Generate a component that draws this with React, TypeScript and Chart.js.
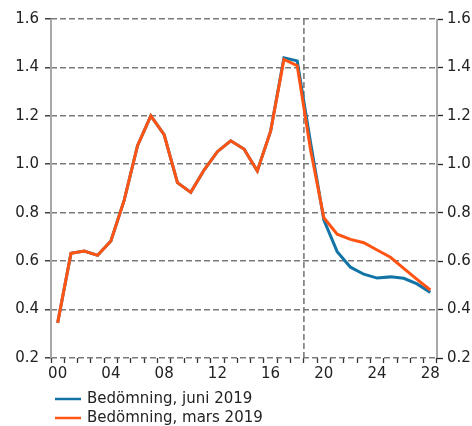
import React, { useEffect, useRef } from "react";
import { Chart, registerables } from "chart.js";

Chart.register(...registerables);

const years: string[] = [
  "00", "01", "02", "03", "04", "05", "06", "07", "08", "09",
  "10", "11", "12", "13", "14", "15", "16", "17", "18", "19",
  "20", "21", "22", "23", "24", "25", "26", "27", "28",
];

const juni2019: number[] = [
  0.345, 0.632, 0.642, 0.624, 0.683, 0.852, 1.077, 1.2, 1.122, 0.924,
  0.884, 0.976, 1.052, 1.097, 1.063, 0.972, 1.137, 1.44, 1.427, 1.09,
  0.77, 0.639, 0.575, 0.546, 0.53, 0.535, 0.529, 0.506, 0.471,
];

const mars2019: number[] = [
  0.345, 0.632, 0.642, 0.624, 0.683, 0.852, 1.077, 1.2, 1.122, 0.924,
  0.884, 0.976, 1.052, 1.097, 1.063, 0.972, 1.137, 1.433, 1.407, 1.06,
  0.779, 0.711, 0.69, 0.676, 0.646, 0.616, 0.57, 0.525, 0.481,
];

const seriesLabels: string[] = ["Bedömning, juni 2019", "Bedömning, mars 2019"];
const seriesColors: string[] = ["#1274a6", "#ff5414"];
const yTicks: number[] = [0.2, 0.4, 0.6, 0.8, 1.0, 1.2, 1.4, 1.6];
const forecastStart = 18.5; // boundary between 2018 and 2019

const FONT = '"DejaVu Sans", Verdana, sans-serif';
const TEXT = "#222222";
const GRID = "#7a7a7a";
const AXIS = "#a8a8a8";

export default function App() {
  const ref = useRef<HTMLCanvasElement | null>(null);

  useEffect(() => {
    document.body.style.margin = "0";
    const canvas = ref.current;
    if (!canvas) return;

    const frame = {
      id: "frame",
      beforeDatasetsDraw(chart: any) {
        const { ctx, chartArea, scales } = chart;
        const x = scales.x.getPixelForValue(forecastStart);
        ctx.save();
        ctx.strokeStyle = GRID;
        ctx.lineWidth = 1.6;
        ctx.setLineDash([6, 3]);
        ctx.beginPath();
        ctx.moveTo(x, chartArea.top);
        ctx.lineTo(x, chartArea.bottom);
        ctx.stroke();
        ctx.setLineDash([]);
        ctx.strokeStyle = AXIS;
        ctx.lineWidth = 2;
        ctx.beginPath();
        ctx.moveTo(chartArea.left, chartArea.top);
        ctx.lineTo(chartArea.left, chartArea.bottom);
        ctx.moveTo(chartArea.right, chartArea.top);
        ctx.lineTo(chartArea.right, chartArea.bottom);
        ctx.stroke();
        ctx.restore();
      },
    };

    const legend = {
      id: "customLegend",
      afterDraw(chart: any) {
        const { ctx } = chart;
        ctx.save();
        ctx.font = "15px " + FONT;
        ctx.textBaseline = "middle";
        ctx.textAlign = "left";
        const rows = [399, 418];
        seriesLabels.forEach((lab, i) => {
          const y = rows[i];
          ctx.strokeStyle = seriesColors[i];
          ctx.lineWidth = 2.5;
          ctx.beginPath();
          ctx.moveTo(55, y);
          ctx.lineTo(81, y);
          ctx.stroke();
          ctx.fillStyle = TEXT;
          ctx.fillText(lab, 87, y);
        });
        ctx.restore();
      },
    };

    const chart = new Chart(canvas, {
      type: "line",
      data: {
        labels: years,
        datasets: [
          {
            label: seriesLabels[0],
            data: juni2019,
            borderColor: seriesColors[0],
            backgroundColor: seriesColors[0],
            borderWidth: 3,
            pointRadius: 0,
            tension: 0,
            order: 1,
            yAxisID: "y",
          },
          {
            label: seriesLabels[1],
            data: mars2019,
            borderColor: seriesColors[1],
            backgroundColor: seriesColors[1],
            borderWidth: 3,
            pointRadius: 0,
            tension: 0,
            order: 0,
            yAxisID: "y",
          },
        ],
      },
      options: {
        responsive: false,
        animation: false,
        devicePixelRatio: 1,
        layout: { padding: { left: 0, right: 0, top: 19, bottom: 0 } },
        plugins: {
          legend: { display: false },
          tooltip: { enabled: false },
        },
        scales: {
          x: {
            type: "category",
            offset: true,
            grid: {
              offset: true,
              drawOnChartArea: false,
              drawTicks: true,
              tickLength: 5,
              tickColor: "#333333",
              tickWidth: 1.3,
            },
            border: { display: false },
            ticks: {
              autoSkip: false,
              maxRotation: 0,
              padding: 2,
              color: TEXT,
              font: { family: FONT, size: 15 },
              callback: (_v: any, i: number) => (i % 4 === 0 ? years[i] : ""),
            },
            afterFit: (s: any) => {
              s.height = 68;
            },
          },
          y: {
            type: "linear",
            position: "left",
            min: 0.2,
            max: 1.6,
            afterBuildTicks: (s: any) => {
              s.ticks = yTicks.map((v) => ({ value: v }));
            },
            grid: {
              color: GRID,
              lineWidth: 1.6,
              tickLength: 6,
              tickColor: "#222222",
              tickWidth: 1.3,
            },
            border: { display: false, dash: [6, 3] },
            ticks: {
              padding: 6,
              color: TEXT,
              font: { family: FONT, size: 15 },
              callback: (v: any) => Number(v).toFixed(1),
            },
            afterFit: (s: any) => {
              s.width = 51;
            },
          },
          y2: {
            type: "linear",
            position: "right",
            min: 0.2,
            max: 1.6,
            afterBuildTicks: (s: any) => {
              s.ticks = yTicks.map((v) => ({ value: v }));
            },
            grid: {
              drawOnChartArea: false,
              tickLength: 6,
              tickColor: "#222222",
              tickWidth: 1.3,
            },
            border: { display: false },
            ticks: {
              padding: 4,
              color: TEXT,
              font: { family: FONT, size: 15 },
              callback: (v: any) => Number(v).toFixed(1),
            },
            afterFit: (s: any) => {
              s.width = 35;
            },
          },
        },
      },
      plugins: [frame, legend],
    } as any);

    return () => chart.destroy();
  }, []);

  return (
    <div style={{ width: 472, height: 426, position: "relative" }}>
      <canvas ref={ref} width={472} height={426} style={{ display: "block" }} />
    </div>
  );
}
